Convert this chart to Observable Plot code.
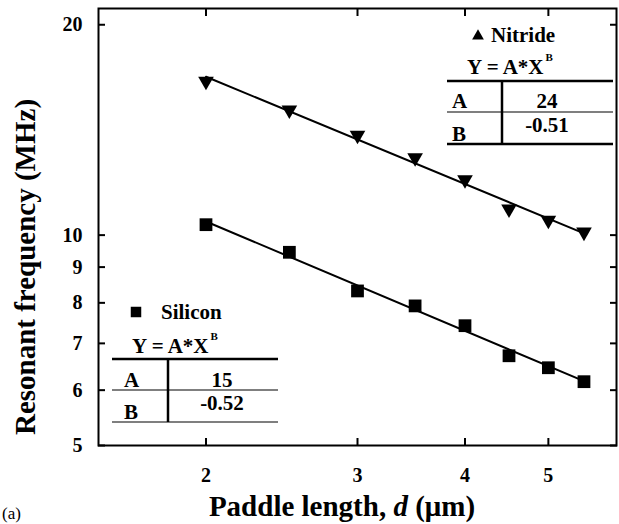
<!DOCTYPE html>
<html>
<head>
<meta charset="utf-8">
<script src="https://cdn.jsdelivr.net/npm/d3@7"></script>
<script src="https://cdn.jsdelivr.net/npm/@observablehq/plot@0.6"></script>
<style>
  html, body { margin: 0; padding: 0; background: white; }
  svg, svg text, svg tspan { font-family: "Liberation Serif", "Times New Roman", serif !important; }
  svg text { font-weight: bold; }
</style>
</head>
<body>
<div id="chart"></div>
<script>
// Data
const paddleLength = [2, 2.5, 3, 3.5, 4, 4.5, 5, 5.5];
const nitrideFreq  = [16.6, 15.1, 13.9, 12.9, 12.0, 10.9, 10.5, 10.1];
const siliconFreq  = [10.35, 9.45, 8.32, 7.92, 7.42, 6.72, 6.46, 6.17];
const fitX         = [2, 5.5];
const nitrideFit   = [16.85, 10.06];
const siliconFit   = [10.46, 6.18];
const xTicks = [2, 3, 4, 5];
const yTicks = [5, 6, 7, 8, 9, 10, 20];
const nitrideParams = {A: "24", B: "-0.51"};
const siliconParams = {A: "15", B: "-0.52"};

const nitride = paddleLength.map((d, i) => ({x: d, y: nitrideFreq[i]}));
const silicon = paddleLength.map((d, i) => ({x: d, y: siliconFreq[i]}));
const nitrideLine = fitX.map((d, i) => ({x: d, y: nitrideFit[i]}));
const siliconLine = fitX.map((d, i) => ({x: d, y: siliconFit[i]}));

const svg = Plot.plot({
  width: 619,
  height: 524,
  marginLeft: 98,
  marginRight: 3,
  marginTop: 8,
  marginBottom: 79,
  style: {fontSize: "20px", color: "black", background: "white"},
  x: {type: "log", domain: [1.5, 6]},
  y: {type: "log", domain: [5, 21.1]},
  marks: [
    Plot.axisX({ticks: xTicks, anchor: "bottom", tickSize: -7, text: null, label: null, strokeWidth: 2}),
    Plot.axisX({ticks: xTicks, anchor: "top", tickSize: -7, text: null, label: null, strokeWidth: 2}),
    Plot.axisY({ticks: yTicks, anchor: "left", tickSize: -7, text: null, label: null, strokeWidth: 2}),
    Plot.axisY({ticks: yTicks, anchor: "right", tickSize: -7, text: null, label: null, strokeWidth: 2}),
    Plot.axisX({ticks: xTicks, anchor: "bottom", tickSize: 0, tickPadding: 22, tickFormat: d => String(d), label: null}),
    Plot.axisY({ticks: yTicks, anchor: "left", tickSize: 0, tickPadding: 16, tickFormat: d => String(d), label: null}),
    Plot.frame({stroke: "black", strokeWidth: 2}),
    Plot.line(nitrideLine, {x: "x", y: "y", stroke: "black", strokeWidth: 2}),
    Plot.line(siliconLine, {x: "x", y: "y", stroke: "black", strokeWidth: 2}),
    Plot.dot(nitride, {x: "x", y: "y", symbol: "triangle", rotate: 180, r: 5.8, fill: "black", stroke: "none"}),
    Plot.dot(silicon, {x: "x", y: "y", symbol: "square", r: 7.2, fill: "black", stroke: "none"})
  ]
});
document.getElementById("chart").appendChild(svg);

const s = d3.select(svg);

// Axis titles
s.append("text")
  .attr("transform", "translate(35,267) rotate(-90)")
  .attr("text-anchor", "middle")
  .attr("font-size", 29)
  .text("Resonant frequency (MHz)");

const xl = s.append("text")
  .attr("x", 342).attr("y", 516)
  .attr("text-anchor", "middle")
  .attr("font-size", 29);
xl.append("tspan").text("Paddle length, ");
xl.append("tspan").attr("font-style", "italic").text("d");
xl.append("tspan").text(" (μm)");

s.append("text")
  .attr("x", 2).attr("y", 519)
  .attr("text-anchor", "start")
  .attr("font-size", 17).style("font-weight", "normal")
  .text("(a)");

// Inset fit tables
function txt(g, x, y, t, anchor) {
  return g.append("text").attr("x", x).attr("y", y).attr("text-anchor", anchor || "start").attr("font-size", 21).text(t);
}
function inset(g, o) {
  const sym = d3.symbol().type(o.symbol).size(o.symSize);
  g.append("path").attr("d", sym()).attr("transform", `translate(${o.symX},${o.symY})`).attr("fill", "black");
  txt(g, o.nameX, o.nameY, o.name);
  const eq = txt(g, o.eqX, o.eqY, null);
  eq.append("tspan").text("Y = A*X");
  eq.append("tspan").attr("font-size", 11).attr("dy", -13).attr("dx", 2).text("B");
  const L = [o.x0, o.x1];
  g.append("line").attr("x1", L[0]).attr("x2", L[1]).attr("y1", o.yTop).attr("y2", o.yTop).attr("stroke", "black").attr("stroke-width", 2.5);
  g.append("line").attr("x1", L[0]).attr("x2", L[1]).attr("y1", o.yMid).attr("y2", o.yMid).attr("stroke", "black").attr("stroke-width", 1.2);
  g.append("line").attr("x1", L[0]).attr("x2", L[1]).attr("y1", o.yBot).attr("y2", o.yBot).attr("stroke", "black").attr("stroke-width", o.botW);
  g.append("line").attr("x1", o.xv).attr("x2", o.xv).attr("y1", o.yTop).attr("y2", o.yBot).attr("stroke", "black").attr("stroke-width", 2.5);
  txt(g, o.labX, o.aY, "A");
  txt(g, o.labX, o.bY, "B");
  txt(g, o.valX, o.aY, o.params.A, "middle");
  txt(g, o.valX, o.bVY, o.params.B, "middle");
}

inset(s.append("g"), {
  symbol: d3.symbolTriangle, symSize: 60, symX: 478, symY: 36,
  name: "Nitride", nameX: 491, nameY: 42,
  eqX: 467, eqY: 74,
  x0: 447, x1: 613, yTop: 81, yMid: 112, yBot: 144, botW: 2.5, xv: 502,
  labX: 452, aY: 108, bY: 141, valX: 547, bVY: 132,
  params: nitrideParams
});
inset(s.append("g"), {
  symbol: d3.symbolSquare, symSize: 110, symX: 136, symY: 312,
  name: "Silicon", nameX: 161, nameY: 319,
  eqX: 132, eqY: 353,
  x0: 112, x1: 278, yTop: 359, yMid: 390, yBot: 422, botW: 1.2, xv: 168,
  labX: 124, aY: 387, bY: 419, valX: 222, bVY: 410,
  params: siliconParams
});
</script>
</body>
</html>
